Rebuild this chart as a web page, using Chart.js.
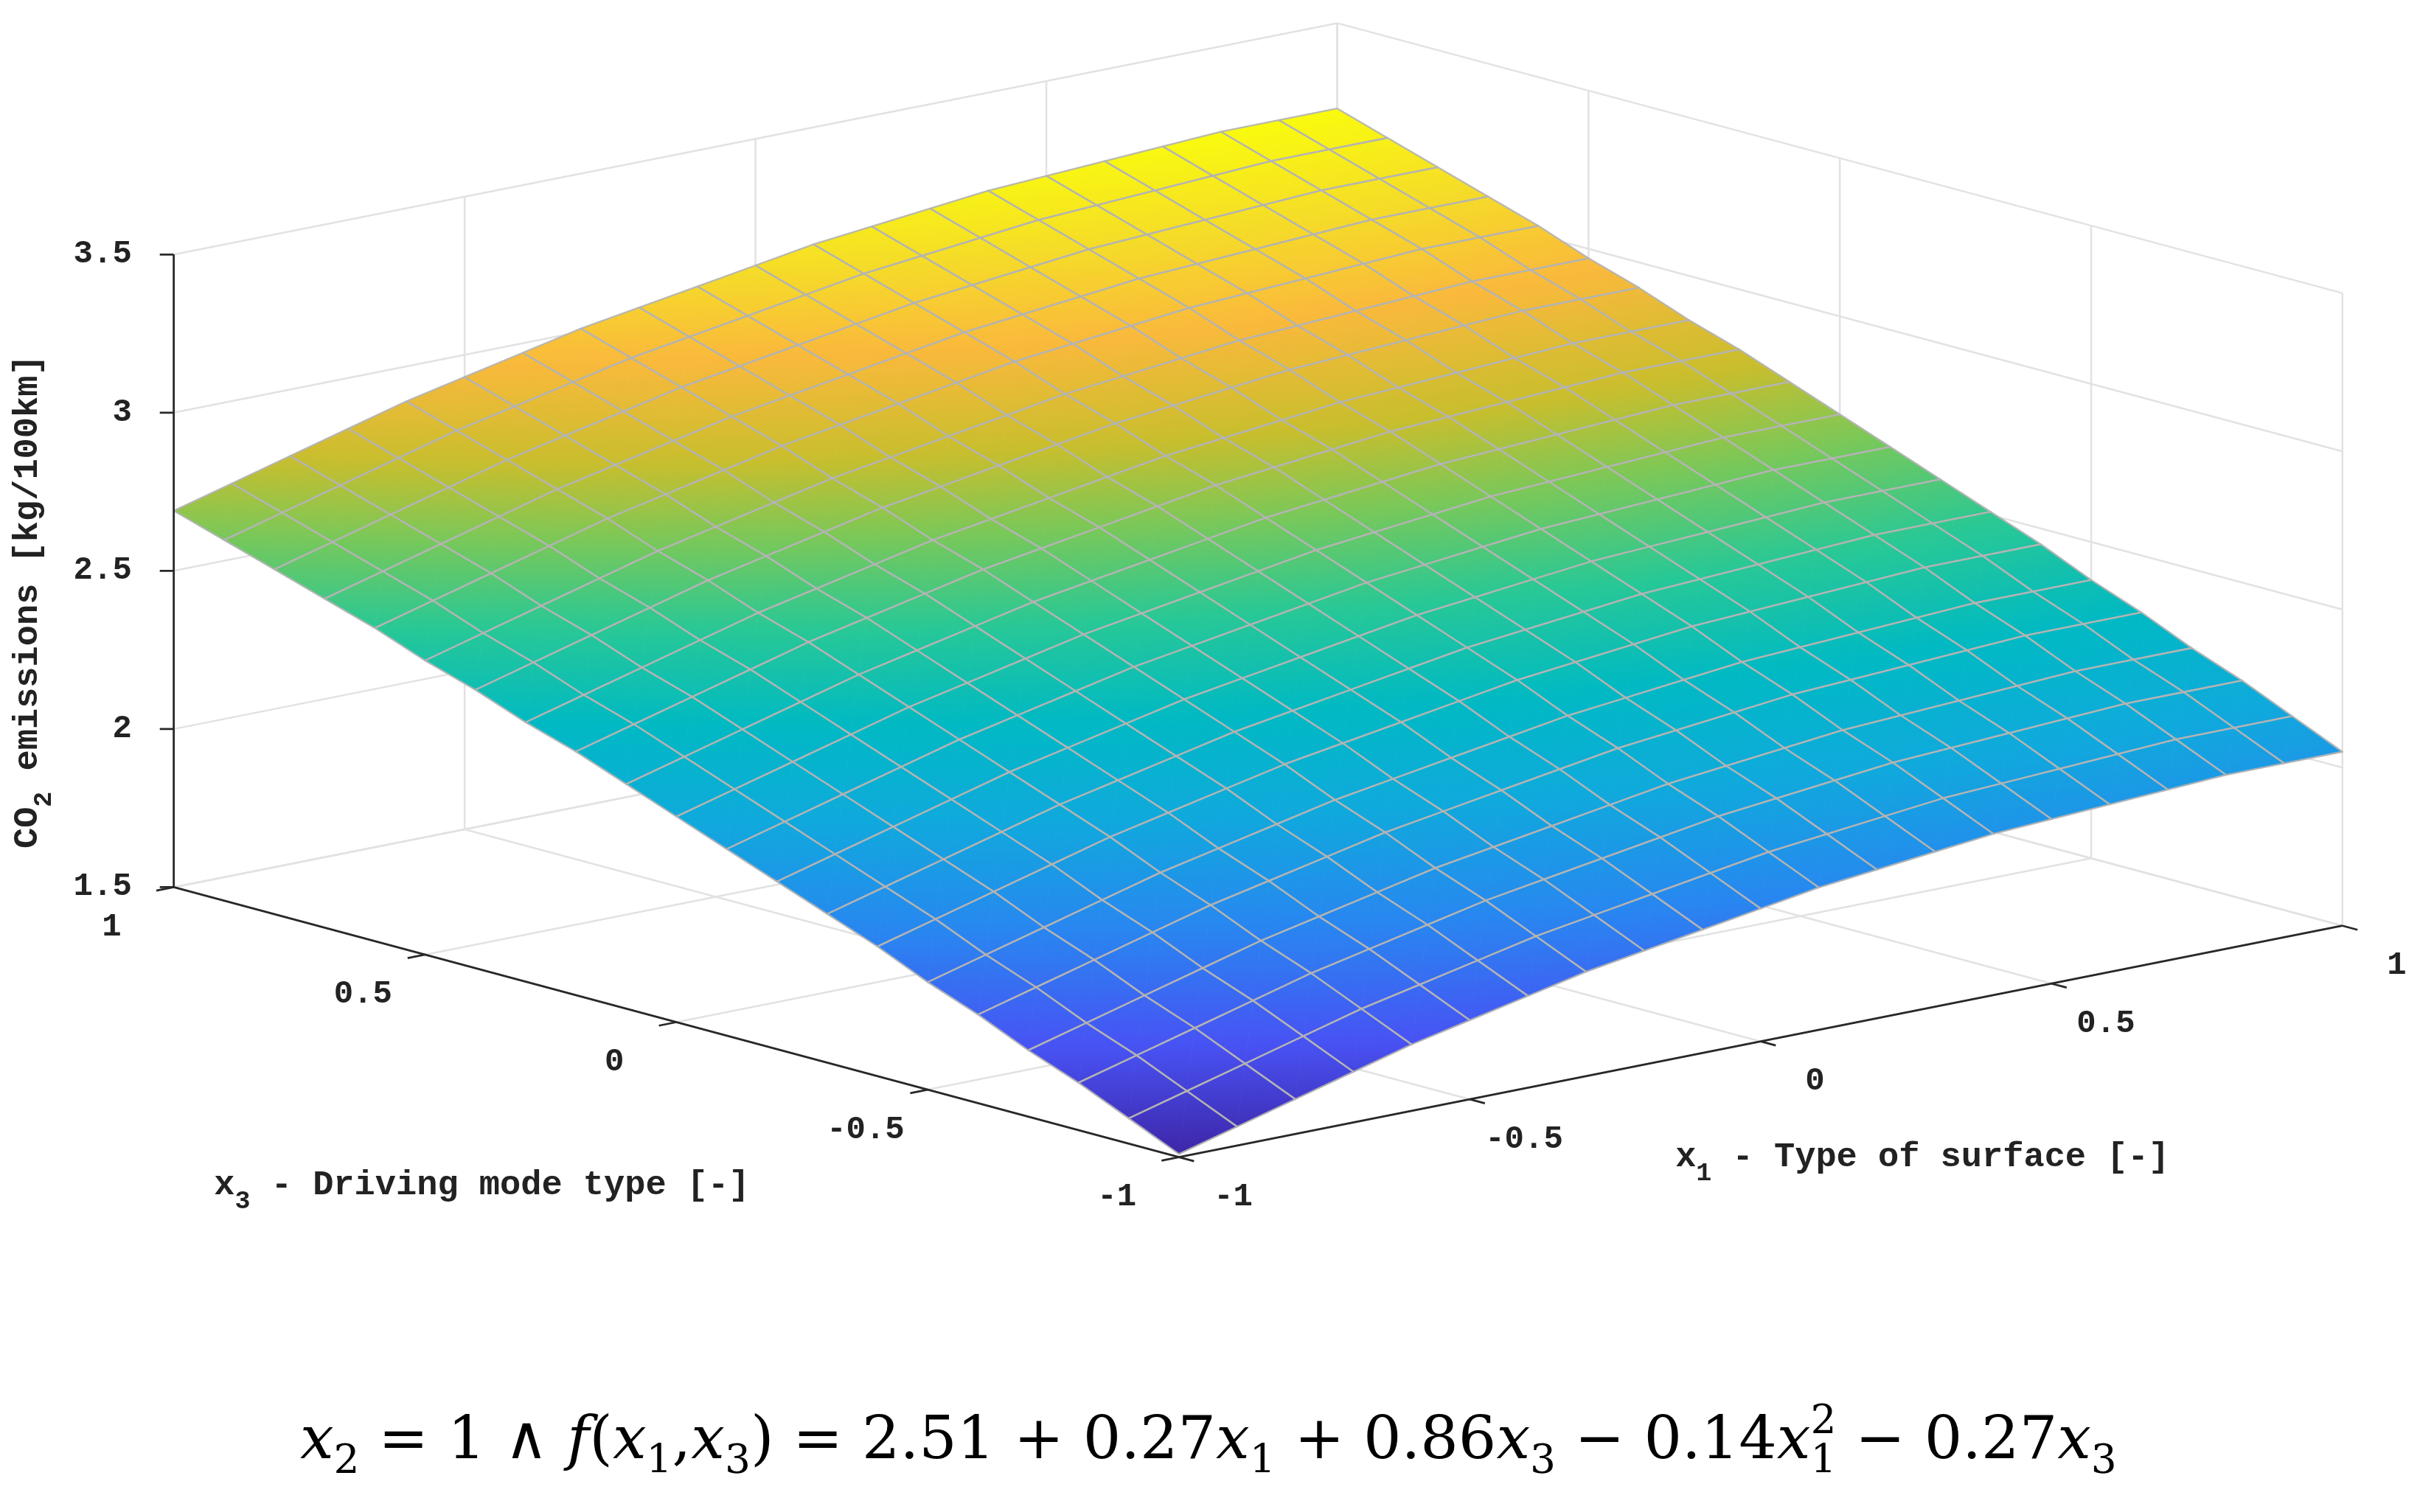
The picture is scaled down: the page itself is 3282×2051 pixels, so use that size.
<!DOCTYPE html>
<html><head><meta charset="utf-8">
<script src="https://cdn.jsdelivr.net/npm/chart.js@4.4.1/dist/chart.umd.min.js"></script>
<style>html,body{margin:0;padding:0;background:#fff}#wrap{width:3282px;height:2051px}</style>
</head><body><div id="wrap"><canvas id="c"></canvas></div>
<script>
const x1Values=[-1,-0.9,-0.8,-0.7,-0.6,-0.5,-0.4,-0.3,-0.2,-0.1,0,0.1,0.2,0.3,0.4,0.5,0.6,0.7,0.8,0.9,1];
const x3Values=[-1,-0.9,-0.8,-0.7,-0.6,-0.5,-0.4,-0.3,-0.2,-0.1,0,0.1,0.2,0.3,0.4,0.5,0.6,0.7,0.8,0.9,1];
// rows: x3, columns: x1
const zValues=[
[1.51,1.56,1.61,1.66,1.71,1.75,1.79,1.83,1.86,1.89,1.92,1.95,1.97,1.99,2.01,2.02,2.03,2.04,2.05,2.05,2.05],
[1.58,1.63,1.68,1.73,1.78,1.82,1.86,1.90,1.93,1.96,1.99,2.02,2.04,2.06,2.08,2.09,2.10,2.11,2.12,2.12,2.12],
[1.65,1.70,1.75,1.80,1.85,1.89,1.93,1.97,2.00,2.03,2.06,2.09,2.11,2.13,2.15,2.16,2.17,2.18,2.19,2.19,2.19],
[1.71,1.76,1.81,1.86,1.91,1.95,1.99,2.03,2.06,2.09,2.12,2.15,2.17,2.19,2.21,2.22,2.23,2.24,2.25,2.25,2.25],
[1.78,1.83,1.88,1.93,1.98,2.02,2.06,2.10,2.13,2.16,2.19,2.22,2.24,2.26,2.28,2.29,2.30,2.31,2.32,2.32,2.32],
[1.84,1.89,1.94,1.99,2.04,2.08,2.12,2.16,2.19,2.22,2.25,2.28,2.30,2.32,2.34,2.35,2.36,2.37,2.38,2.38,2.38],
[1.91,1.96,2.01,2.06,2.11,2.15,2.19,2.23,2.26,2.29,2.32,2.35,2.37,2.39,2.41,2.42,2.43,2.44,2.45,2.45,2.45],
[1.97,2.02,2.07,2.12,2.17,2.21,2.25,2.29,2.32,2.35,2.38,2.41,2.43,2.45,2.47,2.48,2.49,2.50,2.51,2.51,2.51],
[2.03,2.08,2.13,2.18,2.23,2.27,2.31,2.35,2.38,2.41,2.44,2.47,2.49,2.51,2.53,2.54,2.55,2.56,2.57,2.57,2.57],
[2.09,2.14,2.19,2.24,2.29,2.33,2.37,2.41,2.44,2.47,2.50,2.53,2.55,2.57,2.59,2.60,2.61,2.62,2.63,2.63,2.63],
[2.15,2.20,2.25,2.30,2.35,2.39,2.43,2.47,2.50,2.53,2.56,2.59,2.61,2.63,2.65,2.66,2.67,2.68,2.69,2.69,2.69],
[2.21,2.26,2.31,2.36,2.41,2.45,2.49,2.53,2.56,2.59,2.62,2.65,2.67,2.69,2.71,2.72,2.73,2.74,2.75,2.75,2.75],
[2.27,2.32,2.37,2.42,2.47,2.51,2.55,2.59,2.62,2.65,2.68,2.71,2.73,2.75,2.77,2.78,2.79,2.80,2.81,2.81,2.81],
[2.32,2.37,2.42,2.47,2.52,2.56,2.60,2.64,2.67,2.70,2.73,2.76,2.78,2.80,2.82,2.83,2.84,2.85,2.86,2.86,2.86],
[2.38,2.43,2.48,2.53,2.58,2.62,2.66,2.70,2.73,2.76,2.79,2.82,2.84,2.86,2.88,2.89,2.90,2.91,2.92,2.92,2.92],
[2.43,2.48,2.53,2.58,2.63,2.67,2.71,2.75,2.78,2.81,2.84,2.87,2.89,2.91,2.93,2.94,2.95,2.96,2.97,2.97,2.97],
[2.49,2.54,2.59,2.64,2.69,2.73,2.77,2.81,2.84,2.87,2.90,2.93,2.95,2.97,2.99,3.00,3.01,3.02,3.03,3.03,3.03],
[2.54,2.59,2.64,2.69,2.74,2.78,2.82,2.86,2.89,2.92,2.95,2.98,3.00,3.02,3.04,3.05,3.06,3.07,3.08,3.08,3.08],
[2.59,2.64,2.69,2.74,2.79,2.83,2.87,2.91,2.94,2.97,3.00,3.03,3.05,3.07,3.09,3.10,3.11,3.12,3.13,3.13,3.13],
[2.64,2.69,2.74,2.79,2.84,2.88,2.92,2.96,2.99,3.02,3.05,3.08,3.10,3.12,3.14,3.15,3.16,3.17,3.18,3.18,3.18],
[2.69,2.74,2.79,2.84,2.89,2.93,2.97,3.01,3.04,3.07,3.10,3.13,3.15,3.17,3.19,3.20,3.21,3.22,3.23,3.23,3.23]];
const zTicks=[1.5,2,2.5,3,3.5];
const zTickLabels=['1.5','2','2.5','3','3.5'];
const x1Ticks=[-1,-0.5,0,0.5,1];
const x1TickLabels=['-1','-0.5','0','0.5','1'];
const x3Ticks=[-1,-0.5,0,0.5,1];
const x3TickLabels=['-1','-0.5','0','0.5','1'];

const O={x:811,y:587.5}, A={x:375,y:-75}, B={x:-324,y:-87.5}, C=205, Z0=1.5;
function proj(a,b,z){return {x:O.x+a*A.x+b*B.x, y:O.y+a*A.y+b*B.y-(z-Z0)*C};}

const parula=[[0,62,38,168],[0.12,72,82,244],[0.25,40,135,240],[0.37,15,170,220],[0.47,0,185,195],[0.57,40,200,150],[0.66,120,200,90],[0.74,200,190,45],[0.84,250,185,60],[0.92,245,220,40],[1,249,251,14]];
function cmap(t){t=Math.max(0,Math.min(1,t));for(let i=1;i<parula.length;i++){if(t<=parula[i][0]){const a=parula[i-1],b=parula[i],f=(t-a[0])/(b[0]-a[0]);return `rgb(${Math.round(a[1]+f*(b[1]-a[1]))},${Math.round(a[2]+f*(b[2]-a[2]))},${Math.round(a[3]+f*(b[3]-a[3]))})`;}}return 'rgb(249,251,14)';}

const surf={id:'surf',afterDatasetsDraw(chart){
 const ctx=chart.ctx,sx=chart.scales.x,sy=chart.scales.y;
 const px=p=>({x:sx.getPixelForValue(p.x),y:sy.getPixelForValue(p.y)});
 const P=(a,b,z)=>px(proj(a,b,z));
 const k=sx.getPixelForValue(1)-sx.getPixelForValue(0);
 function line(p,q,col,w){ctx.beginPath();ctx.moveTo(p.x,p.y);ctx.lineTo(q.x,q.y);ctx.strokeStyle=col;ctx.lineWidth=w;ctx.stroke();}
 ctx.save();
 const grid='rgb(226,226,226)',gw=1.2*k;
 const zmin=zTicks[0],zmax=zTicks[zTicks.length-1];
 zTicks.forEach(z=>{line(P(-1,1,z),P(1,1,z),grid,gw);line(P(1,1,z),P(1,-1,z),grid,gw);});
 x1Ticks.forEach(a=>{line(P(a,1,zmin),P(a,1,zmax),grid,gw);line(P(a,-1,zmin),P(a,1,zmin),grid,gw);});
 x3Ticks.forEach(b=>{line(P(1,b,zmin),P(1,b,zmax),grid,gw);line(P(-1,b,zmin),P(1,b,zmin),grid,gw);});
 const zs=zValues.flat(),lo=Math.min(...zs),hi=Math.max(...zs);
 const T=v=>(v-lo)/(hi-lo);
 function tri(p,v){
  const x1=p[1].x-p[0].x,y1=p[1].y-p[0].y,x2=p[2].x-p[0].x,y2=p[2].y-p[0].y;
  const d1=v[1]-v[0],d2=v[2]-v[0],det=x1*y2-x2*y1;
  let fill;
  if(Math.abs(det)<1e-6||(Math.abs(d1)<1e-9&&Math.abs(d2)<1e-9)){fill=cmap(T((v[0]+v[1]+v[2])/3));}
  else{const gx=(d1*y2-d2*y1)/det,gy=(x1*d2-x2*d1)/det,g2=gx*gx+gy*gy;
   const vmin=Math.min(...v),vmax=Math.max(...v);
   const s0=(vmin-v[0])/g2,s1=(vmax-v[0])/g2;
   const gr=ctx.createLinearGradient(p[0].x+gx*s0,p[0].y+gy*s0,p[0].x+gx*s1,p[0].y+gy*s1);
   for(let n=0;n<=4;n++){const vv=vmin+(vmax-vmin)*n/4;gr.addColorStop(n/4,cmap(T(vv)));}
   fill=gr;}
  ctx.beginPath();ctx.moveTo(p[0].x,p[0].y);ctx.lineTo(p[1].x,p[1].y);ctx.lineTo(p[2].x,p[2].y);ctx.closePath();
  ctx.fillStyle=fill;ctx.fill();ctx.strokeStyle=fill;ctx.lineWidth=0.8;ctx.stroke();
 }
 const cells=[];
 for(let j=0;j<x3Values.length-1;j++)for(let i=0;i<x1Values.length-1;i++)cells.push([i,j]);
 cells.sort((u,v)=>(x1Values[v[0]]+x3Values[v[1]])-(x1Values[u[0]]+x3Values[u[1]]));
 ctx.lineJoin='round';
 cells.forEach(([i,j])=>{
  const idx=[[i,j],[i+1,j],[i+1,j+1],[i,j+1]];
  const pts=idx.map(([a,b])=>P(x1Values[a],x3Values[b],zValues[b][a]));
  const vs=idx.map(([a,b])=>zValues[b][a]);
  tri([pts[0],pts[1],pts[2]],[vs[0],vs[1],vs[2]]);
  tri([pts[0],pts[2],pts[3]],[vs[0],vs[2],vs[3]]);
 });
 cells.forEach(([i,j])=>{
  const idx=[[i,j],[i+1,j],[i+1,j+1],[i,j+1]];
  const pts=idx.map(([a,b])=>P(x1Values[a],x3Values[b],zValues[b][a]));
  ctx.beginPath();pts.forEach((p,n)=>n?ctx.lineTo(p.x,p.y):ctx.moveTo(p.x,p.y));ctx.closePath();
  ctx.strokeStyle='rgba(180,180,180,0.9)';ctx.lineWidth=1.1*k;ctx.stroke();
 });
 const ax='rgb(40,40,40)',aw=1.3*k;
 line(P(-1,1,zmin),P(-1,1,zmax),ax,aw);
 line(P(-1,1,zmin),P(-1,-1,zmin),ax,aw);
 line(P(-1,-1,zmin),P(1,-1,zmin),ax,aw);
 const fs=Math.round(21*k);
 const F1=`bold ${fs}px "Liberation Mono", monospace`;
 ctx.fillStyle='#222';ctx.font=F1;
 zTicks.forEach((z,n)=>{const p=P(-1,1,z);line(p,{x:p.x-9*k,y:p.y},ax,aw);ctx.font=F1;ctx.textAlign='right';ctx.textBaseline='middle';ctx.fillText(zTickLabels[n],p.x-27*k,p.y);});
 x3Ticks.forEach((b,n)=>{const p0=proj(-1,b,zmin);line(px(p0),px({x:p0.x-A.x*0.03,y:p0.y-A.y*0.03}),ax,aw);
  const t=px({x:p0.x-40,y:p0.y+26});ctx.font=F1;ctx.textAlign='center';ctx.textBaseline='middle';ctx.fillText(x3TickLabels[n],t.x,t.y);});
 x1Ticks.forEach((a,n)=>{const p0=proj(a,-1,zmin);line(px(p0),px({x:p0.x-B.x*0.03,y:p0.y-B.y*0.03}),ax,aw);
  const t=px({x:p0.x+35,y:p0.y+26});ctx.font=F1;ctx.textAlign='center';ctx.textBaseline='middle';ctx.fillText(x1TickLabels[n],t.x,t.y);});
 const ls=Math.round(22.5*k);
 function labelSub(x,y,pre,sub,post){
  ctx.textBaseline='alphabetic';ctx.textAlign='left';
  const f1=`bold ${ls}px "Liberation Mono", monospace`,f2=`bold ${Math.round(ls*0.75)}px "Liberation Mono", monospace`;
  ctx.font=f1;const w1=ctx.measureText(pre).width;ctx.font=f2;const w2=ctx.measureText(sub).width;
  ctx.font=f1;ctx.fillText(pre,x,y);ctx.font=f2;ctx.fillText(sub,x+w1,y+9*k);ctx.font=f1;ctx.fillText(post,x+w1+w2,y);
 }
 let L=px({x:138,y:774});labelSub(L.x,L.y,'x','3',' - Driving mode type [-]');
 L=px({x:1080,y:756});labelSub(L.x,L.y,'x','1',' - Type of surface [-]');
 L=px({x:24,y:550});ctx.save();ctx.translate(L.x,L.y);ctx.rotate(-Math.PI/2);labelSub(0,0,'CO','2',' emissions [kg/100km]');ctx.restore();
 const segs=[['x','i'],['2','s'],[' = 1 ∧ ','n'],['f','i'],['(','n'],['x','i'],['1','s'],[',','n'],['x','i'],['3','s'],[') = 2.51 + 0.27','n'],['x','i'],['1','s'],[' + 0.86','n'],['x','i'],['3','s'],[' − 0.14','n'],['x','i'],['1','b'],[' − 0.27','n'],['x','i'],['3','s']];
 const F=Math.round(38.5*k);
 const fonts={i:`italic ${F}px "DejaVu Serif", serif`,n:`${F}px "DejaVu Serif", serif`,s:`${Math.round(F*0.68)}px "DejaVu Serif", serif`,b:`${Math.round(F*0.68)}px "DejaVu Serif", serif`};
 let tw=0;segs.forEach(s=>{ctx.font=fonts[s[1]];tw+=s[1]==='b'?ctx.measureText('1').width:ctx.measureText(s[0]).width;});
 const fc=px({x:779,y:945});let cx=fc.x-tw/2;ctx.fillStyle='#000';ctx.textAlign='left';ctx.textBaseline='alphabetic';
 segs.forEach(s=>{ctx.font=fonts[s[1]];
  if(s[1]==='b'){ctx.fillText('2',cx,fc.y-0.42*F);ctx.fillText('1',cx,fc.y+0.25*F);cx+=ctx.measureText('1').width;return;}
  ctx.fillText(s[0],cx,fc.y+(s[1]==='s'?0.25*F:0));cx+=ctx.measureText(s[0]).width;});
 ctx.restore();
}};

new Chart(document.getElementById('c'),{type:'scatter',
 data:{datasets:[{data:[],pointRadius:0}]},
 options:{responsive:true,maintainAspectRatio:false,animation:false,
  layout:{padding:0},
  plugins:{legend:{display:false},tooltip:{enabled:false}},
  scales:{x:{type:'linear',min:0,max:1560,display:false},y:{type:'linear',min:0,max:980,reverse:true,display:false}}},
 plugins:[surf]});
</script></body></html>
